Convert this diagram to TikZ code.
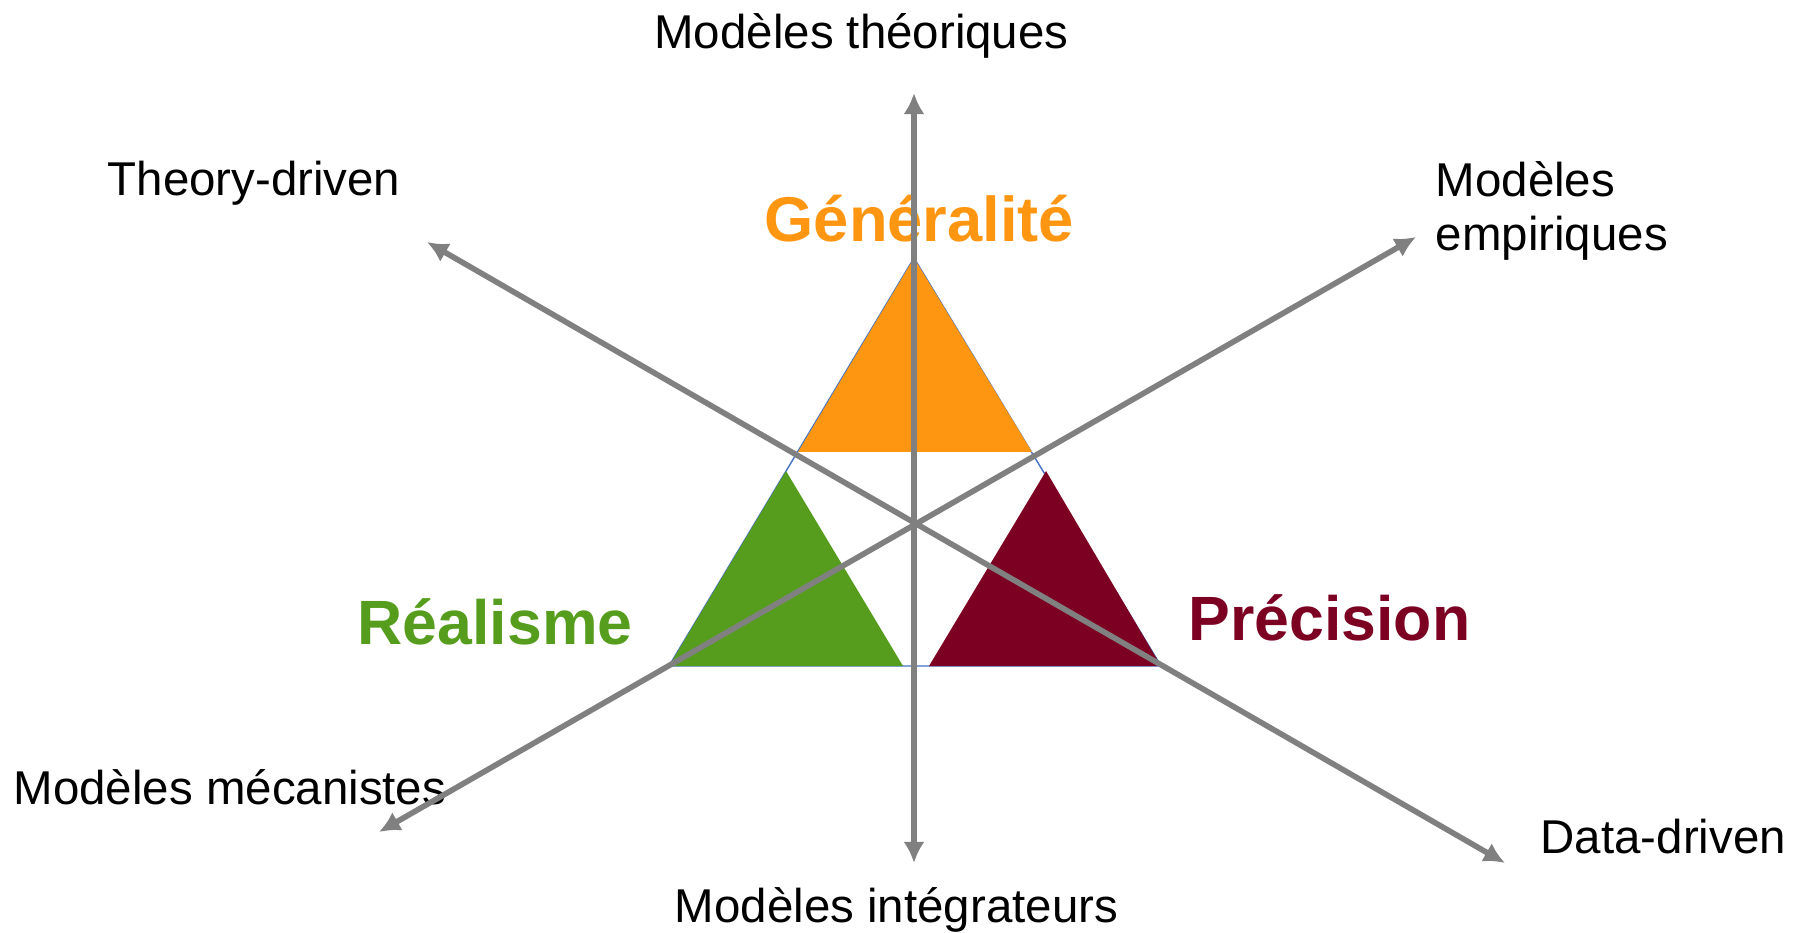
\documentclass[tikz,border=0pt]{standalone}
\usepackage{fontspec}
\setmainfont{Liberation Sans}
\usetikzlibrary{arrows.meta}
\definecolor{orangeg}{RGB}{255,150,18}
\definecolor{vertr}{RGB}{86,157,29}
\definecolor{rougep}{RGB}{124,0,34}
\definecolor{bleut}{RGB}{68,114,196}

\begin{document}
\begin{tikzpicture}[
            lab/.style={inner sep=0,font=\fontsize{13.5}{15.5}\selectfont},
            big/.style={inner sep=0,font=\fontsize{17.8}{21}\selectfont\bfseries},
            axe/.style={draw,<->,gray,line width=1.6pt},
            >={Latex[length=6pt,width=6pt]}
          ]
          \useasboundingbox (0,0) rectangle (17.98,-9.33);

          %triangles
          \draw[bleut,line width=0.4pt] (9.14,-2.58) -- (6.69,-6.66) -- (11.61,-6.66) -- cycle;
          \fill[orangeg] (9.14,-2.58) -- (7.98,-4.52) -- (10.32,-4.52) -- cycle;
          \fill[vertr] (7.86,-4.71) -- (6.69,-6.66) -- (9.03,-6.66) -- cycle;
          \fill[rougep] (10.46,-4.71) -- (9.29,-6.66) -- (11.61,-6.66) -- cycle;

          %labels
          \node[lab,anchor=base] (theo) at (8.615,-0.49) {Modèles théoriques};
          \node[lab,anchor=base west] (theory) at (1.07,-1.96) {Theory-driven};
          \node[lab,anchor=base west,align=left] (empir) at (14.35,-2.506) {Modèles\\empiriques};
          \node[lab,anchor=base west] (meca) at (0.13,-8.04) {Modèles mécanistes};
          \node[lab,anchor=base] (integ) at (8.965,-9.22) {Modèles intégrateurs};
          \node[lab,anchor=base west] (data) at (15.40,-8.53) {Data-driven};
          \node[big,anchor=base west,orangeg,font=\fontsize{18}{21}\selectfont\bfseries] (gen) at (7.64,-2.417) {Généralité};
          \node[big,anchor=base west,vertr] (real) at (3.57,-6.44) {Réalisme};
          \node[big,anchor=base west,rougep] (prec) at (11.88,-6.41) {Précision};

          %axes
          \coordinate (haut) at (9.14,-0.93);
          \coordinate (bas) at (9.14,-8.63);
          \coordinate (td) at (4.27,-2.42);
          \coordinate (dd) at (15.05,-8.63);
          \coordinate (pe) at (14.16,-2.37);
          \coordinate (pm) at (3.79,-8.32);
          \draw[axe] (bas) -- (haut);
          \draw[axe] (dd) -- (td);
          \draw[axe] (pm) -- (pe);
      \end{tikzpicture}
\end{document}
